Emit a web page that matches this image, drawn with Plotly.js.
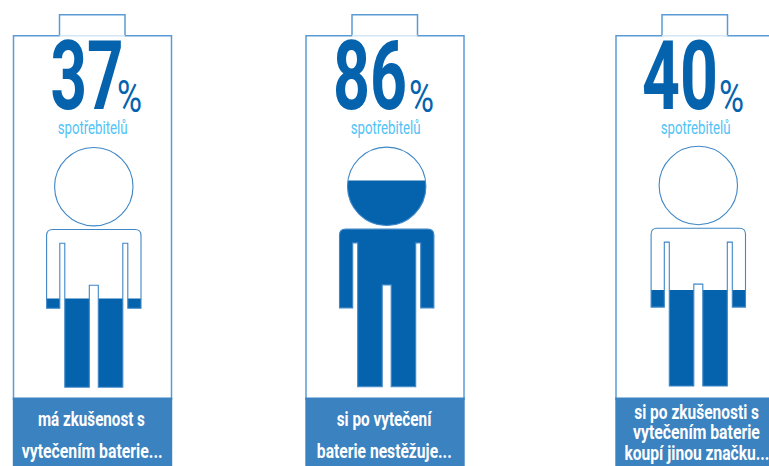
<!DOCTYPE html>
<html><head><meta charset="utf-8">
<script src="https://cdn.plot.ly/plotly-3.0.1.min.js"></script>
<style>html,body{margin:0;padding:0;background:#fff}#c{width:769px;height:466px}</style>
</head><body><div id="c"></div>
<script>
// ---- data ----
const percents = [37, 86, 40];
const percentLabels = ['37', '86', '40'];
const unitLabel = '%';
const subLabel = 'spotřebitelů';
const captions = [
  ['má zkušenost s', 'vytečením baterie...'],
  ['si po vytečení', 'baterie nestěžuje...'],
  ['si po zkušenosti s', 'vytečením baterie', 'koupí jinou značku...']
];

// ---- layout (pixels) ----
const W = 769, H = 466;
const centres = [93.8, 386.7, 698.3];
const panelLeft = [13.5, 306, 616];
const panelWidth = 158;
const capLeftOffset = 46, capWidth = 65.5;
const shiftY = [0, -0.4, -1.2];
const feetPx = 387.2, figPx = 240;
const numCentre = [86.5, 370, 679.5], pctCentre = [129.5, 421, 731], subCentre = [92, 385, 695];
const numWidth = [73, 74, 76], pctWidth = 25, subWidth = 70;
const capCentre = [[91.5, 92], [384.5, 384.5], [696.5, 696.5, 696.5]];
const capWidths = [[107, 141], [96, 135], [125, 127, 145]];
const sz = {num: 96, pct: 45, sub: 18, cap: 20};
const FONT = 'Roboto';

const BLUE = '#0563ae', EDGE = '#3f87c6', PANEL = '#5b9bd5', FOOT = '#3a82c0', LIGHT = '#4fc3f5';

// y axis is in "percent of the figure": 0 at feet, 100 at top of head
const Y = p => (feetPx - p) / figPx * 100;
const yRange = [Y(H), Y(0)];

function silhouette(i) {
  const c = centres[i], s = shiftY[i];
  const P = (dx, py) => (c + dx) + ',' + Y(py + s);
  const top = 229.5, arm = 308.3, slit = 243.3, crotch = 285.3, feet = 387.2;
  const cy = 186.7, r = 39.2, k = r * 0.5523;
  const head = 'M' + P(-r, cy) +
    'C' + P(-r, cy - k) + ' ' + P(-k, cy - r) + ' ' + P(0, cy - r) +
    'C' + P(k, cy - r) + ' ' + P(r, cy - k) + ' ' + P(r, cy) +
    'C' + P(r, cy + k) + ' ' + P(k, cy + r) + ' ' + P(0, cy + r) +
    'C' + P(-k, cy + r) + ' ' + P(-r, cy + k) + ' ' + P(-r, cy) + 'Z';
  const body = 'M' + P(-47.2, top + 6) + 'Q' + P(-47.2, top) + ' ' + P(-41.2, top) +
    'L' + P(41.2, top) + 'Q' + P(47.2, top) + ' ' + P(47.2, top + 6) +
    'L' + P(47.2, arm) + 'L' + P(34, arm) + 'L' + P(34, slit) + 'L' + P(29, slit) +
    'L' + P(29, feet) + 'L' + P(4.5, feet) + 'L' + P(4.5, crotch) + 'L' + P(-4.5, crotch) +
    'L' + P(-4.5, feet) + 'L' + P(-29, feet) + 'L' + P(-29, slit) + 'L' + P(-34, slit) +
    'L' + P(-34, arm) + 'L' + P(-47.2, arm) + 'Z';
  const b = 'M' + P(-52, 144) + 'L' + P(52, 144) + 'L' + P(52, 391) + 'L' + P(-52, 391) + 'Z';
  return {head, body, box: b};
}

const shapes = [], annotations = [], targetWidths = [];
function addText(x, py, text, size, color, weight, w) {
  annotations.push({x, y: Y(py), text, xanchor: 'center', yanchor: 'middle', showarrow: false,
    font: {family: FONT, size, color, weight}});
  targetWidths.push(w);
}
percents.forEach((v, i) => {
  const L = panelLeft[i], R = L + panelWidth, cl = L + capLeftOffset, cr = cl + capWidth;
  const sil = silhouette(i);
  shapes.push({type: 'path', layer: 'above', path: sil.box + sil.head + sil.body, fillcolor: '#fff', line: {width: 0}, xref: 'x', yref: 'y'});
  shapes.push({type: 'path', layer: 'above', path: sil.head + sil.body, fillcolor: 'rgba(0,0,0,0)', line: {color: EDGE, width: 1.1}, xref: 'x', yref: 'y'});
  const pt = (x, p) => x + ',' + Y(p);
  shapes.push({type: 'path', layer: 'above', xref: 'x', yref: 'y', line: {color: PANEL, width: 1.5},
    path: 'M' + pt(L, 400) + 'L' + pt(L, 35.7) + 'L' + pt(cl, 35.7) + 'L' + pt(cl, 14.7) + 'L' + pt(cr, 14.7) + 'L' + pt(cr, 35.7) + 'L' + pt(R, 35.7) + 'L' + pt(R, 400)});
  shapes.push({type: 'line', layer: 'above', xref: 'x', yref: 'y', x0: cl, x1: cr, y0: Y(35.7), y1: Y(35.7), line: {color: '#d5e6f4', width: 1.4}});
  shapes.push({type: 'rect', layer: 'above', xref: 'x', yref: 'y', x0: L - 0.7, x1: R + 0.7, y0: Y(397.5), y1: Y(H), fillcolor: FOOT, line: {width: 0}});

  addText(numCentre[i], 76, percentLabels[i], sz.num, BLUE, 700, numWidth[i]);
  addText(pctCentre[i], 96.5, unitLabel, sz.pct, BLUE, 400, pctWidth);
  addText(subCentre[i], 127.5, subLabel, sz.sub, LIGHT, 400, subWidth);
  const lines = captions[i];
  const ys = lines.length === 3 ? [412, 432, 453] : [419, 451];
  lines.forEach((t, j) => addText(capCentre[i][j], ys[j], t, sz.cap, '#fff', 700, capWidths[i][j]));
});

const bars = {
  type: 'bar',
  x: centres,
  y: percents,
  base: shiftY.map(s => -s / figPx * 100),
  width: 96,
  marker: {color: BLUE, line: {width: 0}},
  hoverinfo: 'skip'
};

Plotly.newPlot('c', [bars], {
  width: W, height: H,
  margin: {l: 0, r: 0, t: 0, b: 0},
  paper_bgcolor: '#fff', plot_bgcolor: '#fff',
  showlegend: false, hovermode: false,
  xaxis: {range: [0, W], visible: false, fixedrange: true},
  yaxis: {range: yRange, visible: false, fixedrange: true},
  shapes, annotations
}, {displayModeBar: false, staticPlot: true}).then(gd => {
  // the original lettering is a condensed face: squeeze each real text to its measured width
  gd.querySelectorAll('.annotation').forEach(a => {
    const idx = +a.getAttribute('data-index');
    const t = a.querySelector('text');
    const b = t.getBBox();
    const sx = targetWidths[idx] / b.width;
    const cx = b.x + b.width / 2;
    t.setAttribute('transform', 'translate(' + cx + ',0) scale(' + sx + ',1) translate(' + (-cx) + ',0)');
    const bg = a.querySelector('rect');
    if (bg) bg.setAttribute('width', 0);
  });
});
</script>
</body></html>
